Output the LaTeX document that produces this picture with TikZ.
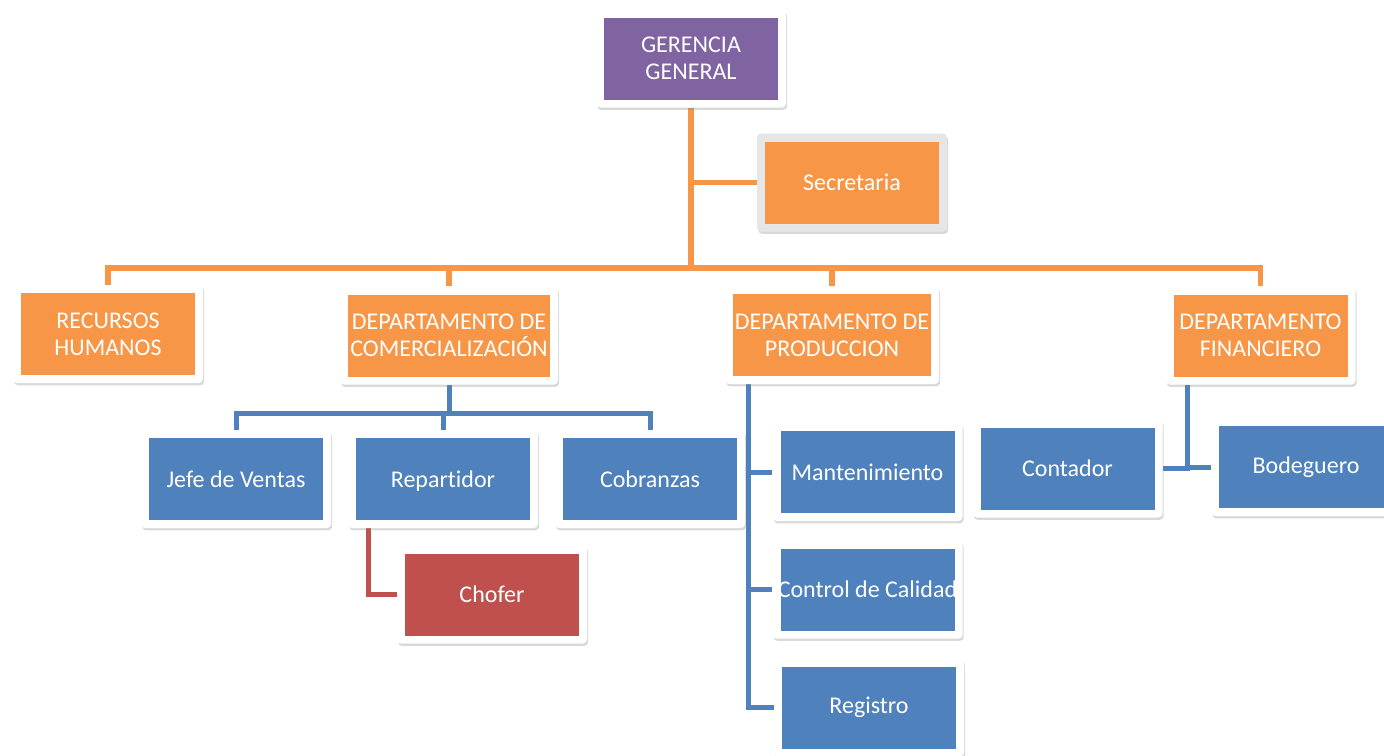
\documentclass[tikz,border=0pt]{standalone}
\usepackage{fontspec}
\setmainfont{Carlito}[Ligatures=NoCommon]
\usetikzlibrary{shadows,backgrounds}
\definecolor{cpurple}{HTML}{8064A2}
\definecolor{corange}{HTML}{F79646}
\definecolor{cblue}{HTML}{4F81BD}
\definecolor{cred}{HTML}{C0504D}
\definecolor{cframe}{HTML}{E6E6E6}
\tikzset{
  unit/.style={rectangle, minimum width=95pt, minimum height=49pt, inner sep=0pt,
    align=center, text=white, font=\fontsize{12}{13.4}\selectfont,
    fill=white, rounded corners=2pt,
    drop shadow={shadow xshift=0.6pt, shadow yshift=-1.2pt, opacity=0.3},
    path picture={\fill[#1, sharp corners] ([shift={(4pt,4pt)}]path picture bounding box.south west)
      rectangle ([shift={(-4pt,-4pt)}]path picture bounding box.north east);}},
  oline/.style={draw=corange, line width=2.8pt},
  bline/.style={draw=cblue, line width=2.5pt},
  rline/.style={draw=cred, line width=2.5pt},
}
\begin{document}
\begin{tikzpicture}[x=0.5pt, y=-0.5pt]
\useasboundingbox (0,0) rectangle (1384,755);
% nodes
\node[unit=cpurple] (gg) at (691,58.5) {GERENCIA\\GENERAL};
\node[unit=corange, fill=cframe] (sec) at (852,182.5) {Secretaria};
\node[unit=corange] (rh) at (108,334) {RECURSOS\\HUMANOS};
\node[unit=corange, minimum width=109pt] (com) at (449,335.5) {DEPARTAMENTO DE\\COMERCIALIZACIÓN};
\node[unit=corange, minimum width=107pt] (prod) at (832,335) {DEPARTAMENTO DE\\PRODUCCION};
\node[unit=corange] (fin) at (1260.5,335.5) {DEPARTAMENTO\\FINANCIERO};
\node[unit=cblue] (jef) at (236,479) {Jefe de Ventas};
\node[unit=cblue] (rep) at (443,479) {\raisebox{0pt}[\height][0pt]{Repartidor}};
\node[unit=cblue] (cob) at (650,479) {Cobranzas};
\node[unit=cred] (cho) at (492,594.5) {Chofer};
\node[unit=cblue] (man) at (867.5,472) {Mantenimiento};
\node[unit=cblue] (ctl) at (867.5,589.5) {Control de Calidad};
\node[unit=cblue] (reg) at (869,707.5) {Registro};
\node[unit=cblue] (con) at (1067.5,468.5) {Contador};
\node[unit=cblue] (bod) at (1306,467) {Bodeguero};
% helper coordinates
\coordinate (bus) at (691,268);
\coordinate (cbus) at (449,413);
\coordinate (rv) at ([xshift=10.5pt]rep.south west);
\coordinate (pv) at ([xshift=12pt]prod.south west);
\coordinate (fv) at ([xshift=11.25pt]fin.south west);
% connectors
\begin{scope}[on background layer]
\draw[oline] (gg.south) -- (gg.south |- bus);
\draw[oline] (gg.south |- sec.west) -- (sec.west);
\draw[oline] (rh.north) -- (rh.north |- bus) -- (fin.north |- bus) -- (fin.north);
\draw[oline] (com.north |- bus) -- (com.north);
\draw[oline] (prod.north |- bus) -- (prod.north);
\draw[bline] (com.south) -- (com.south |- cbus);
\draw[bline] (jef.north) -- (jef.north |- cbus) -- (cob.north |- cbus) -- (cob.north);
\draw[bline] (rep.north |- cbus) -- (rep.north);
\draw[rline] (rv) |- (cho.west);
\draw[bline] (pv) |- (reg.west);
\draw[bline] (pv |- man.west) -- (man.west);
\draw[bline] (pv |- ctl.west) -- (ctl.west);
\draw[bline] (fv) |- (con.east);
\draw[bline] (fv |- bod.west) -- (bod.west);
\end{scope}
\end{tikzpicture}
\end{document}
